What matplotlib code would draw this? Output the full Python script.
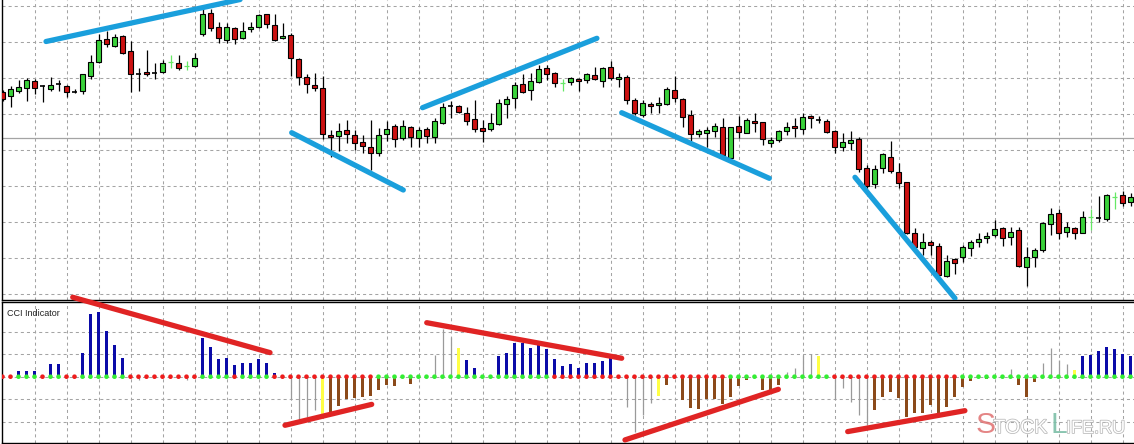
import matplotlib
matplotlib.use('Agg')
import matplotlib.pyplot as plt
from matplotlib.patches import Rectangle
import matplotlib.patheffects as pe

plt.rcParams['lines.scale_dashes'] = False

# ---------------- data ----------------
opens = [120.8, 120.4, 120.9, 121.2, 121.9, 121.4, 121.1, 121.6, 121.4, 120.8,
         120.9, 122.4, 123.8, 126.1, 125.4, 126.4, 124.9, 122.6, 122.8, 122.7,
         122.8, 123.8, 123.7, 123.4, 123.4, 126.6, 128.7, 127.3, 126.0, 127.2,
         126.2, 127.1, 127.3, 128.6, 127.5, 126.2, 126.5, 124.1, 122.3, 121.5,
         121.2, 116.5, 116.4, 117.0, 116.5, 115.8, 115.3, 114.7, 116.6, 117.4,
         116.2, 117.3, 116.2, 117.1, 116.3, 117.7, 119.4, 119.4, 118.7, 118.1,
         117.2, 117.1, 117.6, 119.6, 120.2, 121.6, 121.0, 121.8, 123.2, 122.7,
         121.7, 121.8, 122.1, 122.0, 122.5, 121.9, 123.3, 122.1, 122.3, 120.0,
         118.5, 119.6, 119.5, 119.6, 121.0, 120.1, 118.5, 116.6, 116.7, 116.9,
         117.3, 114.2, 117.4, 116.7, 117.9, 117.8, 115.7, 116.0, 116.9, 117.4,
         117.1, 118.4, 118.0, 117.9, 116.9, 115.3, 115.7, 116.1, 113.2, 111.6,
         113.2, 114.3, 112.8, 111.8, 106.7, 105.2, 105.8, 105.4, 102.4, 104.1,
         104.3, 105.2, 105.8, 106.2, 106.5, 107.2, 106.3, 107.0, 103.3, 104.3,
         105.0, 107.6, 108.7, 106.8, 107.2, 106.7, 108.3, 108.2, 108.1, 110.3,
         110.5, 109.8]
highs = [121.0, 121.4, 122.0, 122.2, 122.1, 121.5, 122.3, 122.0, 121.5, 121.1,
         122.6, 124.5, 126.6, 126.9, 126.6, 126.5, 125.9, 123.2, 125.0, 123.7,
         124.0, 124.5, 124.5, 123.9, 124.7, 129.2, 129.1, 127.8, 127.7, 127.3,
         127.8, 127.8, 128.6, 128.6, 128.6, 127.7, 126.7, 124.2, 122.6, 122.7,
         122.4, 117.0, 117.7, 118.0, 117.0, 116.5, 118.0, 117.2, 117.9, 117.6,
         118.0, 117.4, 117.3, 117.3, 118.2, 119.7, 119.9, 119.5, 119.3, 120.0,
         118.0, 118.7, 120.1, 120.4, 121.8, 122.6, 122.7, 123.5, 123.5, 122.8,
         122.1, 122.3, 122.2, 122.7, 123.3, 123.3, 123.9, 122.7, 122.5, 120.2,
         120.0, 119.8, 120.3, 121.3, 122.4, 120.2, 119.0, 117.1, 117.3, 117.7,
         118.2, 117.3, 118.4, 118.2, 118.7, 117.8, 116.3, 117.0, 117.8, 118.2,
         118.7, 118.5, 118.4, 118.1, 117.0, 116.7, 116.9, 116.3, 113.5, 113.5,
         114.7, 115.9, 113.7, 111.8, 107.2, 106.7, 106.0, 105.7, 104.5, 104.2,
         105.5, 106.0, 106.7, 106.8, 108.0, 107.3, 107.3, 107.3, 105.3, 105.2,
         107.8, 109.2, 109.1, 107.8, 107.3, 108.9, 109.1, 110.4, 110.6, 110.8,
         110.9, 110.7]
lows = [119.9, 119.3, 120.7, 119.9, 120.6, 119.8, 120.9, 120.9, 120.3, 120.7,
        120.6, 122.1, 123.7, 125.3, 125.3, 124.6, 120.8, 120.9, 122.4, 122.1,
        122.7, 123.2, 123.0, 123.0, 123.3, 126.4, 126.9, 125.7, 125.7, 125.6,
        126.1, 126.8, 127.2, 127.2, 125.9, 126.1, 122.4, 121.5, 120.7, 120.9,
        116.1, 114.3, 114.9, 115.7, 115.0, 114.7, 113.0, 114.4, 115.9, 115.3,
        116.0, 115.3, 115.3, 115.7, 115.7, 117.6, 118.2, 118.7, 117.5, 116.8,
        115.8, 116.9, 117.5, 118.2, 119.2, 120.7, 120.0, 121.7, 122.0, 121.3,
        120.9, 121.5, 120.9, 121.7, 122.0, 121.3, 122.0, 121.3, 119.6, 118.5,
        118.3, 118.7, 118.7, 119.5, 119.8, 117.3, 115.9, 116.3, 115.3, 116.3,
        114.5, 114.2, 116.2, 116.7, 116.8, 115.5, 115.3, 115.8, 116.5, 116.3,
        116.6, 117.2, 117.7, 116.7, 114.7, 114.9, 115.0, 112.8, 111.2, 111.2,
        112.7, 112.7, 111.2, 106.6, 105.0, 104.5, 104.5, 102.3, 102.3, 102.6,
        103.8, 104.4, 105.3, 105.7, 106.3, 105.4, 105.5, 103.3, 101.4, 103.3,
        104.8, 106.5, 106.1, 106.3, 106.1, 106.7, 107.0, 107.8, 107.9, 109.1,
        109.4, 109.4]
closes = [120.1, 121.1, 121.3, 122.0, 121.2, 121.4, 121.5, 121.6, 120.8, 120.8,
          122.6, 123.8, 126.0, 125.6, 126.3, 124.7, 122.6, 122.6, 122.6, 122.7,
          123.7, 123.8, 123.2, 123.4, 124.2, 128.6, 127.2, 126.2, 127.3, 126.1,
          126.9, 127.3, 128.5, 127.6, 126.0, 126.4, 124.2, 122.3, 121.6, 121.2,
          116.6, 116.3, 116.9, 116.6, 115.7, 115.4, 114.7, 116.5, 117.1, 116.1,
          117.4, 116.3, 117.0, 116.4, 117.9, 119.3, 119.4, 118.8, 117.9, 117.1,
          116.9, 117.7, 119.7, 120.1, 121.5, 120.8, 121.9, 123.1, 122.6, 121.7,
          121.7, 122.2, 121.9, 122.6, 122.1, 123.2, 122.2, 122.3, 120.0, 118.7,
          119.7, 119.4, 119.7, 121.1, 120.2, 118.3, 116.6, 116.9, 117.0, 117.4,
          114.5, 117.3, 116.8, 118.0, 117.7, 116.1, 116.0, 116.9, 117.3, 117.2,
          118.3, 118.2, 118.0, 116.8, 115.3, 115.8, 116.0, 113.1, 111.4, 113.1,
          114.6, 112.9, 111.7, 106.7, 105.3, 105.8, 105.5, 102.5, 103.9, 103.7,
          105.3, 105.8, 106.1, 106.4, 107.1, 106.2, 106.8, 103.4, 104.3, 105.0,
          107.7, 108.6, 106.7, 107.3, 106.7, 108.3, 108.3, 108.2, 110.5, 110.3,
          109.7, 110.3]
cross_candles = [21, 23, 70, 136, 139]   # light-green doji crosses
price_line = 116.2
price_grid = [100.6, 104.2, 107.8, 111.4, 115.0, 118.6, 122.2, 125.8, 129.4]

cci_values = [0, 0, 25, 25, 25, 0, 56, 56, 0, 0,
              104, 279, 286, 203, 141, 81, 0, -13, 0, 0,
              0, 0, 0, -13, 0, 170, 130, 77, 83, 52,
              62, 62, 77, 59, 18, 0, -98, -199, -179, -147,
              -169, -159, -129, -99, -95, -90, -84, -61, -36, -43,
              0, -31, 0, 0, 96, 210, 175, 126, 74, 37,
              0, 0, 92, 104, 148, 151, 126, 141, 121, 77,
              48, 56, 37, 59, 59, 70, 81, 0, -136, -244,
              -170, -119, -86, -37, 0, -104, -141, -142, -101, -101,
              -121, -89, -41, -15, 0, -59, -62, -37, 22, 37,
              96, 101, 92, 0, -101, -50, -111, -169, -215, -148,
              -89, -67, -96, -178, -163, -163, -126, -163, -136, -89,
              -48, -18, 0, -12, 0, 0, 32, -37, -89, -22,
              60, 126, 74, 56, 30, 91, 98, 113, 130, 124,
              102, 93]
# b = blue, n = brown, g = grey, y = yellow, . = none
cci_kind = ("..bbb.bb.." "bbbbbb.g.." "...g.bbbbb" "bbbbb.gggg"
            "ynnnnnnnnn" ".n..gggybb" "..bbbbbbbb" "bbbbbbb.gg"
            "ggynnnnnnn" "nnnn.nnngg" "ggy.gggggn" "nnnnnnnnnn"
            "nn.n..gnnn" "ggggybbbbb" "bb")
cci_dots = ("rrgggrggrr" "gggggg" "rrrrrrrrr" "gggg" "r" "gggg"
            "rrrrrrrrrrrrr" "gggggggggggggggggggggg"
            "rrrrrrrrrrrrrrrrrrrrrr" "ggggggggggggg"
            "rrrrrrrrrrrrrrrr" "gggggggggggggggggggggg")
cci_grid = [-200, -100, 0, 100, 200]

# trend lines: (x0, y0, x1, y1) in (bar index, value)
price_trends = [(5.44, 125.85, 29.7, 130.05),
                (36.15, 116.73, 50.1, 111.0),
                (52.5, 119.23, 74.3, 126.17),
                (77.4, 118.73, 95.85, 112.17),
                (106.56, 112.27, 119.06, 100.17)]
cci_trends = [(8.78, 353, 33.44, 107),
              (35.31, -216, 46.15, -123),
              (53.03, 240, 77.4, 82),
              (77.81, -281, 96.98, -56),
              (105.65, -244, 120.3, -151)]

# ---------------- figure ----------------
W, H = 1134, 444
fig = plt.figure(figsize=(W / 100, H / 100), dpi=100)
fig.patch.set_facecolor('white')


def px_axes(x0, y0, x1, y1):
    return fig.add_axes([x0 / W, 1 - y1 / H, (x1 - x0) / W, (y1 - y0) / H])


ax1 = px_axes(2, 0, W, 300)
ax2 = px_axes(2, 302, W, 443)
n = len(opens)
xl = (-0.0625, 141.4375)
grid_kw = dict(color='#a4a4a4', lw=0.75, ls=(0, (2.2, 2.2)), zorder=0)

for ax in (ax1, ax2):
    ax.set_xlim(*xl)
    ax.set_xticks([])
    ax.set_yticks([])
    for s in ('top', 'right', 'bottom', 'left'):
        ax.spines[s].set_color('black')
        ax.spines[s].set_linewidth(1.0)
    ax.spines['right'].set_visible(False)
    for gx in range(4, n, 4):
        ax.axvline(gx, **grid_kw)
ax1.spines['top'].set_visible(False)

ax1.set_ylim(100, 130)
for gy in price_grid:
    ax1.axhline(gy, **grid_kw)
ax1.axhline(price_line, color='#a4a4a4', lw=0.9, zorder=0)

GREEN = '#3ad23a'
RED = '#cc1111'
CROSS = '#66e866'
bw = 0.6
for i in range(n):
    o, h, l, c = opens[i], highs[i], lows[i], closes[i]
    if i in cross_candles:
        ax1.vlines(i, l, h, color=CROSS, lw=0.9, zorder=2)
        ax1.hlines(c, i - bw / 2, i + bw / 2, color=CROSS, lw=0.9, zorder=2)
        continue
    ax1.vlines(i, l, h, color='black', lw=0.9, zorder=2)
    if o == c:
        ax1.hlines(c, i - bw / 2, i + bw / 2, color='black', lw=1.2, zorder=3)
    else:
        col = GREEN if c > o else RED
        ax1.add_patch(Rectangle((i - bw / 2, min(o, c)), bw, abs(c - o),
                                facecolor=col, edgecolor='black', lw=0.8, zorder=3))

for x0, y0, x1, y1 in price_trends:
    ax1.plot([x0, x1], [y0, y1], color='#1a9fdc', lw=3.8,
             solid_capstyle='round', zorder=5)

# ---------------- CCI panel ----------------
ax2.set_ylim(-294.7, 332)
for gy in cci_grid:
    ax2.axhline(gy, **grid_kw)

bar_colors = {'b': '#0b0ba8', 'n': '#8b4a1a', 'y': '#ffff44'}
for i in range(n):
    k = cci_kind[i]
    v = cci_values[i]
    if k == 'g':
        ax2.vlines(i, 0, v, color='#9a9a9a', lw=0.9, zorder=2)
    elif k in bar_colors:
        ax2.bar(i, v, width=0.4, color=bar_colors[k], zorder=2)

dot_cols = ['#ee1c1c' if d == 'r' else '#33ee33' for d in cci_dots]
ax2.scatter(range(n), [0] * n, s=11, c=dot_cols, zorder=4, linewidths=0)

for x0, y0, x1, y1 in cci_trends:
    ax2.plot([x0, x1], [y0, y1], color='#e02424', lw=3.8,
             solid_capstyle='round', zorder=6, clip_on=False)

fig.text(7 / W, 1 - 316 / H, 'CCI Indicator', fontsize=6.5,
         family='Liberation Sans', va='baseline', color='#222222')

# watermark
base = 1 - 433 / H
fig.text(976 / W, base, 'S', fontsize=21.5, family='Liberation Sans',
         color='#e07070', alpha=0.85, va='baseline')
hollow = [pe.Stroke(linewidth=1.1, foreground='#b8b8b8'), pe.Normal()]
fig.text(993.5 / W, base, 'TOCK', fontsize=14, family='Liberation Sans',
         color='white', va='baseline', path_effects=hollow)
fig.text(1050.5 / W, base, 'L', fontsize=21.5, family='Liberation Sans',
         color='#7dbfa8', alpha=0.9, va='baseline')
fig.text(1066 / W, base, 'IFE.RU', fontsize=13, family='Liberation Sans',
         color='white', va='baseline', path_effects=hollow)

fig.savefig('out.png', dpi=100)
